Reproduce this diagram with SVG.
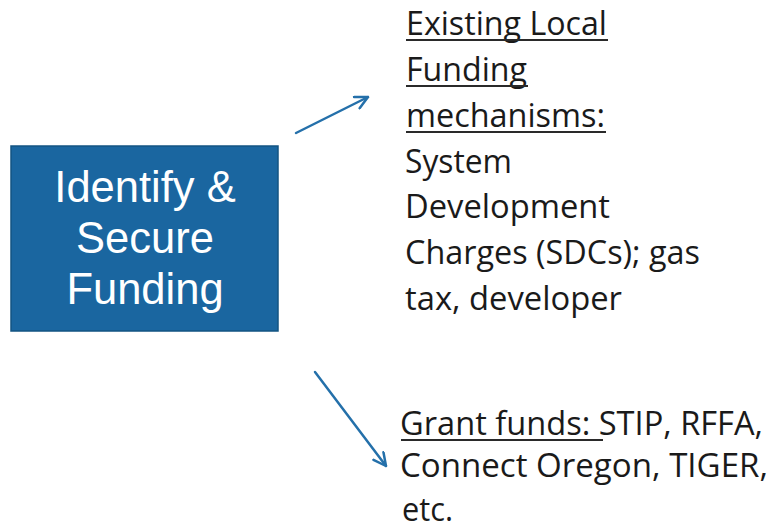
<svg xmlns="http://www.w3.org/2000/svg" width="774" height="531" viewBox="0 0 774 531">
<defs>
<style>
.box{fill:#1a66a0;stroke:#135482;stroke-width:1.5}
.bt{font-family:"Liberation Sans",Arial,sans-serif;font-size:43.5px;fill:#ffffff;text-anchor:middle}
.t{font-family:"Open Sans","Liberation Sans",sans-serif;font-size:32.5px;fill:#1a1a1a}
.ul{stroke:#2a2a2a;stroke-width:2}
.conn{stroke:#2470aa;stroke-width:2.5;fill:none;stroke-linecap:round}
</style>
<marker id="arr" viewBox="0 0 12 12" refX="11" refY="6" markerWidth="6" markerHeight="6" orient="auto" markerUnits="strokeWidth">
<path d="M1,1 L11,6 L1,11" fill="none" stroke="#2470aa" stroke-width="2" stroke-linecap="round" stroke-linejoin="round"/>
</marker>
</defs>
<rect width="774" height="531" fill="#ffffff"/>
<g id="node-identify">
<rect class="box" x="11" y="146" width="267" height="185"/>
<text class="bt" x="145" y="202">Identify &amp;</text>
<text class="bt" x="145" y="253">Secure</text>
<text class="bt" x="145" y="304">Funding</text>
</g>
<g id="node-local">
<text class="t" x="406" y="35" textLength="201" lengthAdjust="spacingAndGlyphs">Existing Local</text>
<text class="t" x="406" y="81" textLength="121" lengthAdjust="spacingAndGlyphs">Funding</text>
<text class="t" x="406" y="127" textLength="199" lengthAdjust="spacingAndGlyphs">mechanisms:</text>
<line class="ul" x1="406" y1="40" x2="608" y2="40"/>
<line class="ul" x1="406" y1="86" x2="528" y2="86"/>
<line class="ul" x1="406" y1="132" x2="606" y2="132"/>
<text class="t" x="405" y="173" textLength="107" lengthAdjust="spacingAndGlyphs">System</text>
<text class="t" x="405" y="218" textLength="205" lengthAdjust="spacingAndGlyphs">Development</text>
<text class="t" x="405" y="264" textLength="295" lengthAdjust="spacingAndGlyphs">Charges (SDCs); gas</text>
<text class="t" x="405" y="310" textLength="217" lengthAdjust="spacingAndGlyphs">tax, developer</text>
</g>
<g id="node-grant">
<text class="t" x="400" y="435" textLength="363" lengthAdjust="spacingAndGlyphs">Grant funds: STIP, RFFA,</text>
<line class="ul" x1="401" y1="440" x2="603" y2="440"/>
<text class="t" x="400" y="477" textLength="368" lengthAdjust="spacingAndGlyphs">Connect Oregon, TIGER,</text>
<text class="t" x="402" y="521" textLength="51" lengthAdjust="spacingAndGlyphs">etc.</text>
</g>
<g id="connectors">
<line class="conn" x1="296" y1="133" x2="368" y2="97" marker-end="url(#arr)"/>
<line class="conn" x1="315" y1="372" x2="386" y2="466" marker-end="url(#arr)"/>
</g>
</svg>
